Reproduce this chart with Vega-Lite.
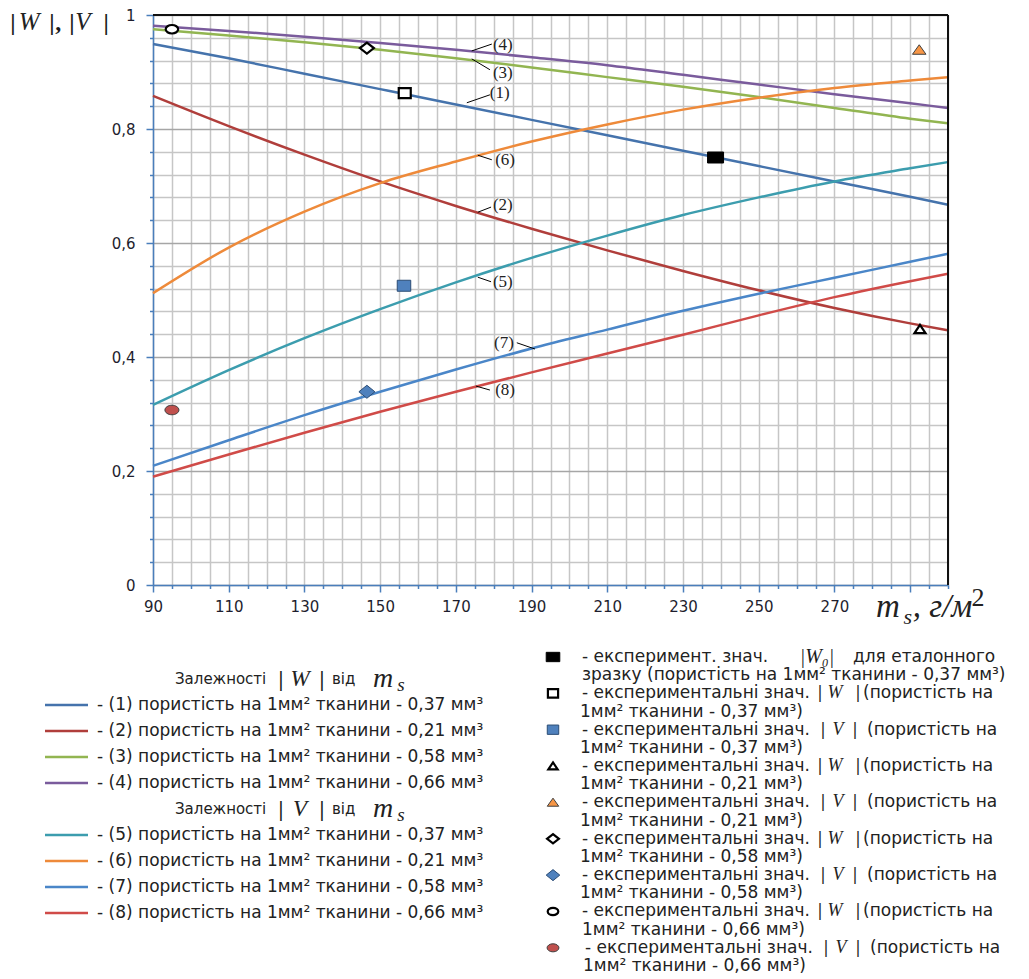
{
"$schema":"https://vega.github.io/schema/vega-lite/v6.json",
"width":795,"height":570,
"autosize":{"type":"none"},
"padding":{"left":153,"top":15,"right":81,"bottom":394},
"background":"#ffffff",
"config":{"view":{"stroke":null}},
"datasets":{
"curves":[
{"s":"1","x":90,"y":0.949},{"s":"1","x":110,"y":0.924},{"s":"1","x":130,"y":0.897},{"s":"1","x":150,"y":0.870},{"s":"1","x":170,"y":0.843},{"s":"1","x":190,"y":0.816},{"s":"1","x":210,"y":0.789},{"s":"1","x":230,"y":0.762},{"s":"1","x":250,"y":0.735},{"s":"1","x":270,"y":0.708},{"s":"1","x":290,"y":0.681},{"s":"1","x":300,"y":0.667},
{"s":"2","x":90,"y":0.858},{"s":"2","x":110,"y":0.805},{"s":"2","x":130,"y":0.755},{"s":"2","x":150,"y":0.708},{"s":"2","x":170,"y":0.665},{"s":"2","x":190,"y":0.625},{"s":"2","x":210,"y":0.587},{"s":"2","x":230,"y":0.551},{"s":"2","x":250,"y":0.517},{"s":"2","x":270,"y":0.486},{"s":"2","x":290,"y":0.459},{"s":"2","x":300,"y":0.447},
{"s":"3","x":90,"y":0.975},{"s":"3","x":110,"y":0.964},{"s":"3","x":130,"y":0.952},{"s":"3","x":150,"y":0.939},{"s":"3","x":170,"y":0.924},{"s":"3","x":190,"y":0.908},{"s":"3","x":210,"y":0.891},{"s":"3","x":230,"y":0.874},{"s":"3","x":250,"y":0.856},{"s":"3","x":270,"y":0.837},{"s":"3","x":290,"y":0.818},{"s":"3","x":300,"y":0.810},
{"s":"4","x":90,"y":0.981},{"s":"4","x":110,"y":0.972},{"s":"4","x":130,"y":0.962},{"s":"4","x":150,"y":0.951},{"s":"4","x":170,"y":0.939},{"s":"4","x":190,"y":0.926},{"s":"4","x":210,"y":0.912},{"s":"4","x":230,"y":0.895},{"s":"4","x":250,"y":0.878},{"s":"4","x":270,"y":0.861},{"s":"4","x":290,"y":0.845},{"s":"4","x":300,"y":0.837},
{"s":"5","x":90,"y":0.316},{"s":"5","x":110,"y":0.377},{"s":"5","x":130,"y":0.433},{"s":"5","x":150,"y":0.484},{"s":"5","x":170,"y":0.531},{"s":"5","x":190,"y":0.574},{"s":"5","x":210,"y":0.613},{"s":"5","x":230,"y":0.649},{"s":"5","x":250,"y":0.680},{"s":"5","x":270,"y":0.708},{"s":"5","x":290,"y":0.731},{"s":"5","x":300,"y":0.742},
{"s":"6","x":90,"y":0.512},{"s":"6","x":110,"y":0.592},{"s":"6","x":130,"y":0.655},{"s":"6","x":150,"y":0.705},{"s":"6","x":170,"y":0.743},{"s":"6","x":190,"y":0.778},{"s":"6","x":210,"y":0.808},{"s":"6","x":230,"y":0.834},{"s":"6","x":250,"y":0.855},{"s":"6","x":270,"y":0.872},{"s":"6","x":290,"y":0.885},{"s":"6","x":300,"y":0.891},
{"s":"7","x":90,"y":0.209},{"s":"7","x":110,"y":0.254},{"s":"7","x":130,"y":0.298},{"s":"7","x":150,"y":0.339},{"s":"7","x":170,"y":0.378},{"s":"7","x":190,"y":0.415},{"s":"7","x":210,"y":0.448},{"s":"7","x":230,"y":0.481},{"s":"7","x":250,"y":0.511},{"s":"7","x":270,"y":0.539},{"s":"7","x":290,"y":0.567},{"s":"7","x":300,"y":0.581},
{"s":"8","x":90,"y":0.190},{"s":"8","x":110,"y":0.229},{"s":"8","x":130,"y":0.267},{"s":"8","x":150,"y":0.304},{"s":"8","x":170,"y":0.339},{"s":"8","x":190,"y":0.373},{"s":"8","x":210,"y":0.406},{"s":"8","x":230,"y":0.439},{"s":"8","x":250,"y":0.473},{"s":"8","x":270,"y":0.505},{"s":"8","x":290,"y":0.533},{"s":"8","x":300,"y":0.546}
],
"points":[
{"id":"W0","q":"F","x":238.6,"y":0.750},
{"id":"W037","q":"W","x":156.5,"y":0.863},
{"id":"V037","q":"F","x":156.3,"y":0.525},
{"id":"W021","q":"W","x":292.6,"y":0.449},
{"id":"V021","q":"F","x":292.4,"y":0.939},
{"id":"W058","q":"W","x":146.5,"y":0.942},
{"id":"V058","q":"F","x":146.5,"y":0.339},
{"id":"W066","q":"W","x":95.0,"y":0.975},
{"id":"V066","q":"F","x":95.0,"y":0.307}
],
"labels":[
{"t":"(1)","x":181.6,"y":0.863,"lx1":172.9,"ly1":0.846,"lx2":179.0,"ly2":0.860},
{"t":"(2)","x":182.4,"y":0.667,"lx1":175.8,"ly1":0.654,"lx2":179.3,"ly2":0.663},
{"t":"(3)","x":182.4,"y":0.898,"lx1":174.2,"ly1":0.923,"lx2":179.0,"ly2":0.904},
{"t":"(4)","x":182.4,"y":0.947,"lx1":174.2,"ly1":0.937,"lx2":179.5,"ly2":0.949},
{"t":"(5)","x":182.4,"y":0.532,"lx1":175.8,"ly1":0.540,"lx2":179.3,"ly2":0.532},
{"t":"(6)","x":183.0,"y":0.746,"lx1":175.8,"ly1":0.754,"lx2":179.5,"ly2":0.746},
{"t":"(7)","x":182.7,"y":0.425,"lx1":186.1,"ly1":0.425,"lx2":190.9,"ly2":0.414},
{"t":"(8)","x":183.0,"y":0.342,"lx1":175.3,"ly1":0.349,"lx2":179.0,"ly2":0.342}
],
"titles":[
{"p":"ybar","x":53.0,"y":0.9737,"t":"|"},
{"p":"yvar","x":57.3,"y":0.9737,"t":"W"},
{"p":"ybar","x":63.3,"y":0.9737,"t":"|"},
{"p":"ybar","x":65.0,"y":0.9737,"t":","},
{"p":"ybar","x":68.6,"y":0.9737,"t":"|"},
{"p":"yvar","x":71.5,"y":0.9737,"t":"V"},
{"p":"ybar","x":77.6,"y":0.9737,"t":"|"},
{"p":"xvar","x":284.1,"y":-0.0561,"t":"m"},
{"p":"xsub","x":289.4,"y":-0.0684,"t":"s"},
{"p":"xunit","x":290.7,"y":-0.0561,"t":", г/м"},
{"p":"xsup","x":307.9,"y":-0.0368,"t":"2"}
],
"legLline":[{"row":1,"s":"1"},{"row":2,"s":"2"},{"row":3,"s":"3"},{"row":4,"s":"4"},{"row":6,"s":"5"},{"row":7,"s":"6"},{"row":8,"s":"7"},{"row":9,"s":"8"}],
"legL":[
{"row":0,"lx":175,"t":"Залежності","p":"h"},
{"row":0,"lx":281,"t":"|","p":"bar"},
{"row":0,"lx":300,"t":"W","p":"var"},
{"row":0,"lx":322,"t":"|","p":"bar"},
{"row":0,"lx":332,"t":"від","p":"h"},
{"row":0,"lx":383,"t":"m","p":"mvar"},
{"row":0.22,"lx":401,"t":"s","p":"msub"},
{"row":1,"lx":97,"t":"- (1) пористість на 1мм² тканини  - 0,37 мм³","p":"t"},
{"row":2,"lx":97,"t":"- (2) пористість на 1мм² тканини  - 0,21 мм³","p":"t"},
{"row":3,"lx":97,"t":"- (3) пористість на 1мм² тканини  - 0,58 мм³","p":"t"},
{"row":4,"lx":97,"t":"- (4) пористість на 1мм² тканини  - 0,66 мм³","p":"t"},
{"row":5,"lx":175,"t":"Залежності","p":"h"},
{"row":5,"lx":281,"t":"|","p":"bar"},
{"row":5,"lx":300,"t":"V","p":"var"},
{"row":5,"lx":322,"t":"|","p":"bar"},
{"row":5,"lx":332,"t":"від","p":"h"},
{"row":5,"lx":383,"t":"m","p":"mvar"},
{"row":5.22,"lx":401,"t":"s","p":"msub"},
{"row":6,"lx":97,"t":"- (5) пористість на 1мм² тканини  - 0,37 мм³","p":"t"},
{"row":7,"lx":97,"t":"- (6) пористість на 1мм² тканини  - 0,21 мм³","p":"t"},
{"row":8,"lx":97,"t":"- (7) пористість на 1мм² тканини  - 0,58 мм³","p":"t"},
{"row":9,"lx":97,"t":"- (8) пористість на 1мм² тканини  - 0,66 мм³","p":"t"}
],
"legRsym":[
{"line":0,"id":"W0","q":"F"},{"line":2,"id":"W037","q":"W"},{"line":4,"id":"V037","q":"F"},{"line":6,"id":"W021","q":"W"},{"line":8,"id":"V021","q":"F"},{"line":10,"id":"W058","q":"W"},{"line":12,"id":"V058","q":"F"},{"line":14,"id":"W066","q":"W"},{"line":16,"id":"V066","q":"F"}
],
"legR":[
{"line":0,"lx":582,"t":"- експеримент. знач.","p":"t"},
{"line":0,"lx":817,"t":"|W₀|","p":"varL"},
{"line":0,"lx":853,"t":"для  еталонного","p":"t"},
{"line":1,"lx":582,"t":"зразку (пористість на 1мм² тканини  - 0,37 мм³)","p":"t"},
{"line":2,"lx":582,"t":"- експериментальні знач.","p":"t"},
{"line":2,"lx":820,"t":"|","p":"bar"},{"line":2,"lx":835,"t":"W","p":"var"},{"line":2,"lx":858,"t":"|","p":"bar"},
{"line":2,"lx":863,"t":"(пористість на","p":"t"},
{"line":3,"lx":580,"t":"1мм² тканини - 0,37 мм³)","p":"t"},
{"line":4,"lx":582,"t":"- експериментальні знач.","p":"t"},
{"line":4,"lx":823,"t":"|","p":"bar"},{"line":4,"lx":838,"t":"V","p":"var"},{"line":4,"lx":855,"t":"|","p":"bar"},
{"line":4,"lx":867,"t":"(пористість на","p":"t"},
{"line":5,"lx":580,"t":"1мм² тканини - 0,37 мм³)","p":"t"},
{"line":6,"lx":582,"t":"- експериментальні знач.","p":"t"},
{"line":6,"lx":820,"t":"|","p":"bar"},{"line":6,"lx":835,"t":"W","p":"var"},{"line":6,"lx":858,"t":"|","p":"bar"},
{"line":6,"lx":863,"t":"(пористість на","p":"t"},
{"line":7,"lx":580,"t":"1мм² тканини - 0,21 мм³)","p":"t"},
{"line":8,"lx":582,"t":"- експериментальні знач.","p":"t"},
{"line":8,"lx":823,"t":"|","p":"bar"},{"line":8,"lx":838,"t":"V","p":"var"},{"line":8,"lx":855,"t":"|","p":"bar"},
{"line":8,"lx":867,"t":"(пористість на","p":"t"},
{"line":9,"lx":580,"t":"1мм² тканини - 0,21 мм³)","p":"t"},
{"line":10,"lx":582,"t":"- експериментальні знач.","p":"t"},
{"line":10,"lx":820,"t":"|","p":"bar"},{"line":10,"lx":835,"t":"W","p":"var"},{"line":10,"lx":858,"t":"|","p":"bar"},
{"line":10,"lx":863,"t":"(пористість на","p":"t"},
{"line":11,"lx":580,"t":"1мм² тканини - 0,58 мм³)","p":"t"},
{"line":12,"lx":582,"t":"- експериментальні знач.","p":"t"},
{"line":12,"lx":823,"t":"|","p":"bar"},{"line":12,"lx":838,"t":"V","p":"var"},{"line":12,"lx":855,"t":"|","p":"bar"},
{"line":12,"lx":867,"t":"(пористість на","p":"t"},
{"line":13,"lx":580,"t":"1мм² тканини - 0,58 мм³)","p":"t"},
{"line":14,"lx":582,"t":"- експериментальні знач.","p":"t"},
{"line":14,"lx":820,"t":"|","p":"bar"},{"line":14,"lx":835,"t":"W","p":"var"},{"line":14,"lx":858,"t":"|","p":"bar"},
{"line":14,"lx":863,"t":"(пористість на","p":"t"},
{"line":15,"lx":582,"t":"1мм² тканини - 0,66 мм³)","p":"t"},
{"line":16,"lx":585,"t":"- експериментальні знач.","p":"t"},
{"line":16,"lx":826,"t":"|","p":"bar"},{"line":16,"lx":841,"t":"V","p":"var"},{"line":16,"lx":858,"t":"|","p":"bar"},
{"line":16,"lx":870,"t":"(пористість на","p":"t"},
{"line":17,"lx":583,"t":"1мм² тканини - 0,66 мм³)","p":"t"}
]
},
"layer":[
{"data":{"values":[{}]},"mark":{"type":"rule","color":"#111111","strokeWidth":2},
  "encoding":{
   "x":{"datum":90,"type":"quantitative","scale":{"domain":[90,300],"nice":false,"zero":false},
    "axis":{"values":[90,95,100,105,110,115,120,125,130,135,140,145,150,155,160,165,170,175,180,185,190,195,200,205,210,215,220,225,230,235,240,245,250,255,260,265,270,275,280,285,290,295,300],
     "title":null,"grid":true,"gridColor":"#c6c6c6","gridWidth":1.5,
     "domainColor":"#4a7ebb","domainWidth":1.5,"tickColor":"#4a7ebb","tickWidth":1.5,"tickSize":7,
     "tickDash":{"condition":{"test":"(datum.value-90)%20==0","value":[10,0]},"value":[3.5,20]},
     "labelExpr":"(datum.value-90)%20==0 && datum.value<=270 ? datum.value : ''",
     "labelFont":"DejaVu Sans","labelFontSize":15,"labelColor":"#1e1e2e","labelPadding":7,"labelFlush":false,"labelOverlap":false}},
   "x2":{"datum":300},
   "y":{"datum":1,"type":"quantitative","scale":{"domain":[0,1],"nice":false,"zero":false},
    "axis":{"values":[0,0.04,0.08,0.12,0.16,0.2,0.24,0.28,0.32,0.36,0.4,0.44,0.48,0.52,0.56,0.6,0.64,0.68,0.72,0.76,0.8,0.84,0.88,0.92,0.96,1],
     "title":null,"grid":true,
     "gridColor":{"condition":{"test":"abs(datum.value*5-round(datum.value*5))<0.001","value":"#a6a6a6"},"value":"#c6c6c6"},
     "gridWidth":1.5,
     "domainColor":"#4a7ebb","domainWidth":1.5,"tickColor":"#4a7ebb","tickWidth":1.5,"tickSize":7,
     "tickDash":{"condition":{"test":"abs(datum.value*5-round(datum.value*5))<0.001","value":[10,0]},"value":[3.5,20]},
     "labelExpr":"abs(datum.value*5-round(datum.value*5))<0.001 ? replace(format(datum.value,'.1~f'),'.',',') : ''",
     "labelFont":"DejaVu Sans","labelFontSize":15,"labelColor":"#1e1e2e","labelPadding":11,"labelFlush":false,"labelOverlap":false}}
  }},
{"layer":[
 {"data":{"name":"curves"},"mark":{"type":"line","strokeWidth":2.5,"interpolate":"monotone"},
  "encoding":{
   "x":{"field":"x","type":"quantitative","scale":{"domain":[90,300],"nice":false,"zero":false},"axis":null},
   "y":{"field":"y","type":"quantitative","scale":{"domain":[0,1],"nice":false,"zero":false},"axis":null},
   "color":{"field":"s","type":"nominal","scale":{"domain":["1","2","3","4","5","6","7","8"],"range":["#4573ac","#b03e3b","#92b551","#7a5b9c","#3c9dae","#ee8a3a","#4a86c8","#d04b48"]},"legend":null}
  }},
 {"data":{"name":"labels"},"mark":{"type":"rule","color":"#000000","strokeWidth":1},
  "encoding":{
   "x":{"field":"lx1","type":"quantitative","scale":{"domain":[90,300],"nice":false,"zero":false},"axis":null},
   "y":{"field":"ly1","type":"quantitative","scale":{"domain":[0,1],"nice":false,"zero":false},"axis":null},
   "x2":{"field":"lx2"},"y2":{"field":"ly2"}}},
 {"data":{"name":"labels"},"mark":{"type":"text","font":"Liberation Serif","fontSize":17,"color":"#222222","align":"center","baseline":"middle"},
  "encoding":{
   "x":{"field":"x","type":"quantitative","scale":{"domain":[90,300],"nice":false,"zero":false},"axis":null},
   "y":{"field":"y","type":"quantitative","scale":{"domain":[0,1],"nice":false,"zero":false},"axis":null},
   "text":{"field":"t"}}},
 {"data":{"name":"points"},"transform":[{"filter":"datum.q=='W'"}],"mark":{"type":"point","filled":true,"opacity":1,"size":100,"strokeWidth":2.2},
  "encoding":{
   "x":{"field":"x","type":"quantitative","scale":{"domain":[90,300],"nice":false,"zero":false},"axis":null},
   "y":{"field":"y","type":"quantitative","scale":{"domain":[0,1],"nice":false,"zero":false},"axis":null},
   "shape":{"field":"id","type":"nominal","scale":{"domain":["W0","W037","V037","W021","V021","W058","V058","W066","V066"],"range":["M-1.6,-1.1H1.6V1.1H-1.6Z","M-1.2,-1H1.2V1H-1.2Z","M-1.35,-1.1H1.35V1.1H-1.35Z","M0,-0.85L1.1,0.8H-1.1Z","M0,-1L1.35,0.9H-1.35Z","M0,-1.1L1.4,0L0,1.1L-1.4,0Z","M0,-1.3L1.6,0L0,1.3L-1.6,0Z","M-1.25,0A1.25,0.85,0,1,1,1.25,0A1.25,0.85,0,1,1,-1.25,0Z","M-1.4,0A1.4,0.95,0,1,1,1.4,0A1.4,0.95,0,1,1,-1.4,0Z"]},"legend":null},
   "fill":{"field":"id","type":"nominal","scale":{"domain":["W0","W037","V037","W021","V021","W058","V058","W066","V066"],"range":["#000000","#ffffff","#4f81bd","#ffffff","#f79646","#ffffff","#4f81bd","#ffffff","#c0504d"]},"legend":null},
   "stroke":{"field":"id","type":"nominal","scale":{"domain":["W0","W037","V037","W021","V021","W058","V058","W066","V066"],"range":["#000000","#000000","#2c4d75","#000000","#404040","#000000","#2c4d75","#000000","#404040"]},"legend":null}
  }},
 {"data":{"name":"points"},"transform":[{"filter":"datum.q!='W'"}],"mark":{"type":"point","filled":true,"opacity":1,"size":100,"strokeWidth":1},
  "encoding":{
   "x":{"field":"x","type":"quantitative","scale":{"domain":[90,300],"nice":false,"zero":false},"axis":null},
   "y":{"field":"y","type":"quantitative","scale":{"domain":[0,1],"nice":false,"zero":false},"axis":null},
   "shape":{"field":"id","type":"nominal","legend":null},
   "fill":{"field":"id","type":"nominal","legend":null},
   "stroke":{"field":"id","type":"nominal","legend":null}
  }},
 {"data":{"values":[{}]},"mark":{"type":"rule","color":"#111111","strokeWidth":2},
  "encoding":{
   "x":{"datum":300,"type":"quantitative","scale":{"domain":[90,300],"nice":false,"zero":false},"axis":null},
   "y":{"datum":0,"type":"quantitative","scale":{"domain":[0,1],"nice":false,"zero":false},"axis":null},
   "y2":{"datum":1}}},
 {"data":{"name":"titles"},"transform":[{"filter":"datum.p=='ybar'"}],"mark":{"type":"text","font":"Liberation Serif","fontWeight":"bold","fontSize":24,"color":"#1a1a1a","align":"center","baseline":"alphabetic"},
  "encoding":{"x":{"field":"x","type":"quantitative","scale":{"domain":[90,300],"nice":false,"zero":false},"axis":null},"y":{"field":"y","type":"quantitative","scale":{"domain":[0,1],"nice":false,"zero":false},"axis":null},"text":{"field":"t"}}},
 {"data":{"name":"titles"},"transform":[{"filter":"datum.p=='yvar'"}],"mark":{"type":"text","font":"Liberation Serif","fontStyle":"italic","fontSize":25,"color":"#222222","align":"center","baseline":"alphabetic"},
  "encoding":{"x":{"field":"x","type":"quantitative","scale":{"domain":[90,300],"nice":false,"zero":false},"axis":null},"y":{"field":"y","type":"quantitative","scale":{"domain":[0,1],"nice":false,"zero":false},"axis":null},"text":{"field":"t"}}},
 {"data":{"name":"titles"},"transform":[{"filter":"datum.p=='xvar'"}],"mark":{"type":"text","font":"Liberation Serif","fontStyle":"italic","fontSize":33,"color":"#222222","align":"center","baseline":"alphabetic"},
  "encoding":{"x":{"field":"x","type":"quantitative","scale":{"domain":[90,300],"nice":false,"zero":false},"axis":null},"y":{"field":"y","type":"quantitative","scale":{"domain":[0,1],"nice":false,"zero":false},"axis":null},"text":{"field":"t"}}},
 {"data":{"name":"titles"},"transform":[{"filter":"datum.p=='xsub'"}],"mark":{"type":"text","font":"Liberation Serif","fontStyle":"italic","fontSize":22,"color":"#222222","align":"center","baseline":"alphabetic"},
  "encoding":{"x":{"field":"x","type":"quantitative","scale":{"domain":[90,300],"nice":false,"zero":false},"axis":null},"y":{"field":"y","type":"quantitative","scale":{"domain":[0,1],"nice":false,"zero":false},"axis":null},"text":{"field":"t"}}},
 {"data":{"name":"titles"},"transform":[{"filter":"datum.p=='xunit'"}],"mark":{"type":"text","font":"Liberation Serif","fontStyle":"italic","fontSize":33,"color":"#222222","align":"left","baseline":"alphabetic"},
  "encoding":{"x":{"field":"x","type":"quantitative","scale":{"domain":[90,300],"nice":false,"zero":false},"axis":null},"y":{"field":"y","type":"quantitative","scale":{"domain":[0,1],"nice":false,"zero":false},"axis":null},"text":{"field":"t"}}},
 {"data":{"name":"titles"},"transform":[{"filter":"datum.p=='xsup'"}],"mark":{"type":"text","font":"Liberation Serif","fontSize":26,"color":"#222222","align":"center","baseline":"alphabetic"},
  "encoding":{"x":{"field":"x","type":"quantitative","scale":{"domain":[90,300],"nice":false,"zero":false},"axis":null},"y":{"field":"y","type":"quantitative","scale":{"domain":[0,1],"nice":false,"zero":false},"axis":null},"text":{"field":"t"}}}
]},
{"layer":[
 {"data":{"name":"legLline"},"mark":{"type":"rule","strokeWidth":2.5},
  "encoding":{
   "x":{"datum":45,"type":"quantitative","scale":{"domain":[0,1029],"range":[-153,876],"nice":false,"zero":false},"axis":null},
   "x2":{"datum":88},
   "y":{"field":"row","type":"quantitative","scale":{"domain":[0,9],"range":[664,898],"nice":false,"zero":false},"axis":null},
   "color":{"field":"s","type":"nominal","scale":{"domain":["1","2","3","4","5","6","7","8"],"range":["#4573ac","#b03e3b","#92b551","#7a5b9c","#3c9dae","#ee8a3a","#4a86c8","#d04b48"]},"legend":null}}},
 {"data":{"name":"legL"},"transform":[{"filter":"datum.p=='t'"}],"mark":{"type":"text","font":"DejaVu Sans","fontSize":17,"color":"#222222","align":"left","baseline":"middle"},
  "encoding":{"x":{"field":"lx","type":"quantitative","scale":{"domain":[0,1029],"range":[-153,876],"nice":false,"zero":false},"axis":null},"y":{"field":"row","type":"quantitative","scale":{"domain":[0,9],"range":[664,898],"nice":false,"zero":false},"axis":null},"text":{"field":"t"}}},
 {"data":{"name":"legL"},"transform":[{"filter":"datum.p=='h'"}],"mark":{"type":"text","font":"DejaVu Sans","fontSize":15,"color":"#222222","align":"left","baseline":"middle"},
  "encoding":{"x":{"field":"lx","type":"quantitative","scale":{"domain":[0,1029],"range":[-153,876],"nice":false,"zero":false},"axis":null},"y":{"field":"row","type":"quantitative","scale":{"domain":[0,9],"range":[664,898],"nice":false,"zero":false},"axis":null},"text":{"field":"t"}}},
 {"data":{"name":"legL"},"transform":[{"filter":"datum.p=='bar'"}],"mark":{"type":"text","font":"Liberation Serif","fontWeight":"bold","fontSize":22,"color":"#1a1a1a","align":"center","baseline":"middle"},
  "encoding":{"x":{"field":"lx","type":"quantitative","scale":{"domain":[0,1029],"range":[-153,876],"nice":false,"zero":false},"axis":null},"y":{"field":"row","type":"quantitative","scale":{"domain":[0,9],"range":[664,898],"nice":false,"zero":false},"axis":null},"text":{"field":"t"}}},
 {"data":{"name":"legL"},"transform":[{"filter":"datum.p=='var'"}],"mark":{"type":"text","font":"Liberation Serif","fontStyle":"italic","fontSize":23,"color":"#222222","align":"center","baseline":"middle"},
  "encoding":{"x":{"field":"lx","type":"quantitative","scale":{"domain":[0,1029],"range":[-153,876],"nice":false,"zero":false},"axis":null},"y":{"field":"row","type":"quantitative","scale":{"domain":[0,9],"range":[664,898],"nice":false,"zero":false},"axis":null},"text":{"field":"t"}}},
 {"data":{"name":"legL"},"transform":[{"filter":"datum.p=='mvar'"}],"mark":{"type":"text","font":"Liberation Serif","fontStyle":"italic","fontSize":28,"color":"#222222","align":"center","baseline":"middle"},
  "encoding":{"x":{"field":"lx","type":"quantitative","scale":{"domain":[0,1029],"range":[-153,876],"nice":false,"zero":false},"axis":null},"y":{"field":"row","type":"quantitative","scale":{"domain":[0,9],"range":[664,898],"nice":false,"zero":false},"axis":null},"text":{"field":"t"}}},
 {"data":{"name":"legL"},"transform":[{"filter":"datum.p=='msub'"}],"mark":{"type":"text","font":"Liberation Serif","fontStyle":"italic","fontSize":19,"color":"#222222","align":"center","baseline":"middle"},
  "encoding":{"x":{"field":"lx","type":"quantitative","scale":{"domain":[0,1029],"range":[-153,876],"nice":false,"zero":false},"axis":null},"y":{"field":"row","type":"quantitative","scale":{"domain":[0,9],"range":[664,898],"nice":false,"zero":false},"axis":null},"text":{"field":"t"}}}
]},
{"layer":[
 {"data":{"name":"legRsym"},"transform":[{"filter":"datum.q=='W'"}],"mark":{"type":"point","filled":true,"opacity":1,"size":72,"strokeWidth":2.2},
  "encoding":{
   "x":{"datum":553,"type":"quantitative","scale":{"domain":[0,1029],"range":[-153,876],"nice":false,"zero":false},"axis":null},
   "y":{"field":"line","type":"quantitative","scale":{"domain":[0,17],"range":[642,951],"nice":false,"zero":false},"axis":null},
   "shape":{"field":"id","type":"nominal","legend":null},
   "fill":{"field":"id","type":"nominal","legend":null},
   "stroke":{"field":"id","type":"nominal","legend":null}}},
 {"data":{"name":"legRsym"},"transform":[{"filter":"datum.q!='W'"}],"mark":{"type":"point","filled":true,"opacity":1,"size":72,"strokeWidth":1},
  "encoding":{
   "x":{"datum":553,"type":"quantitative","scale":{"domain":[0,1029],"range":[-153,876],"nice":false,"zero":false},"axis":null},
   "y":{"field":"line","type":"quantitative","scale":{"domain":[0,17],"range":[642,951],"nice":false,"zero":false},"axis":null},
   "shape":{"field":"id","type":"nominal","legend":null},
   "fill":{"field":"id","type":"nominal","legend":null},
   "stroke":{"field":"id","type":"nominal","legend":null}}},
 {"data":{"name":"legR"},"transform":[{"filter":"datum.p=='t'"}],"mark":{"type":"text","font":"DejaVu Sans","fontSize":17,"color":"#222222","align":"left","baseline":"middle"},
  "encoding":{"x":{"field":"lx","type":"quantitative","scale":{"domain":[0,1029],"range":[-153,876],"nice":false,"zero":false},"axis":null},"y":{"field":"line","type":"quantitative","scale":{"domain":[0,17],"range":[642,951],"nice":false,"zero":false},"axis":null},"text":{"field":"t"}}},
 {"data":{"name":"legR"},"transform":[{"filter":"datum.p=='bar'"}],"mark":{"type":"text","font":"Liberation Serif","fontWeight":"bold","fontSize":18,"color":"#1a1a1a","align":"center","baseline":"middle"},
  "encoding":{"x":{"field":"lx","type":"quantitative","scale":{"domain":[0,1029],"range":[-153,876],"nice":false,"zero":false},"axis":null},"y":{"field":"line","type":"quantitative","scale":{"domain":[0,17],"range":[642,951],"nice":false,"zero":false},"axis":null},"text":{"field":"t"}}},
 {"data":{"name":"legR"},"transform":[{"filter":"datum.p=='var'"}],"mark":{"type":"text","font":"Liberation Serif","fontStyle":"italic","fontSize":18,"color":"#222222","align":"center","baseline":"middle"},
  "encoding":{"x":{"field":"lx","type":"quantitative","scale":{"domain":[0,1029],"range":[-153,876],"nice":false,"zero":false},"axis":null},"y":{"field":"line","type":"quantitative","scale":{"domain":[0,17],"range":[642,951],"nice":false,"zero":false},"axis":null},"text":{"field":"t"}}},
 {"data":{"name":"legR"},"transform":[{"filter":"datum.p=='varL'"}],"mark":{"type":"text","font":"Liberation Serif","fontStyle":"italic","fontSize":20,"color":"#1a1a1a","align":"center","baseline":"middle"},
  "encoding":{"x":{"field":"lx","type":"quantitative","scale":{"domain":[0,1029],"range":[-153,876],"nice":false,"zero":false},"axis":null},"y":{"field":"line","type":"quantitative","scale":{"domain":[0,17],"range":[642,951],"nice":false,"zero":false},"axis":null},"text":{"field":"t"}}}
]}
],
"resolve":{"scale":{"x":"independent","y":"independent"}}
}
